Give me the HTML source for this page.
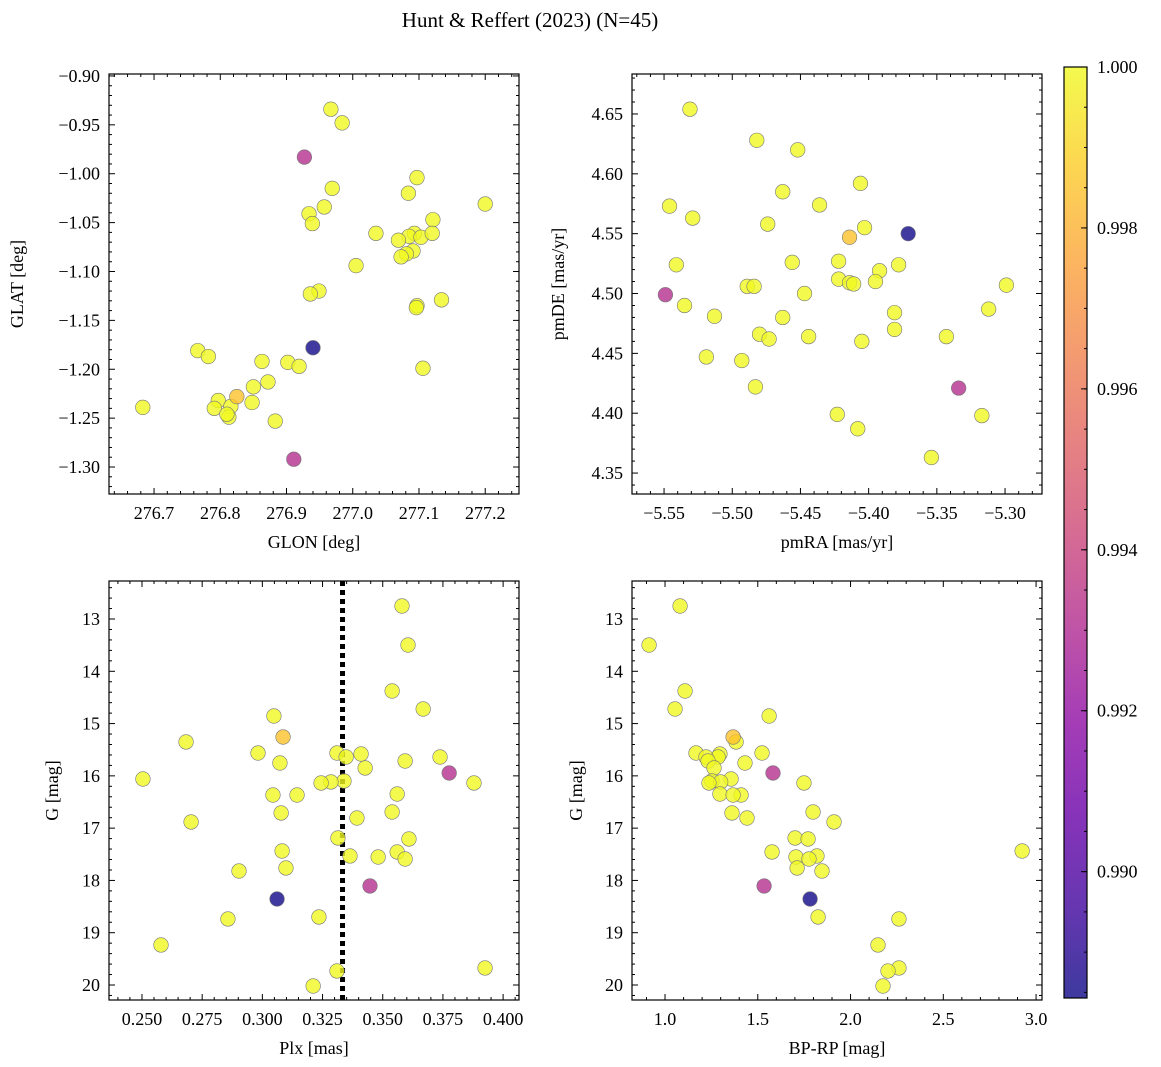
<!DOCTYPE html>
<html><head><meta charset="utf-8">
<style>
html,body{margin:0;padding:0;background:#fff;}
svg{display:block;font-family:"Liberation Serif","DejaVu Serif",serif;}
</style></head>
<body>
<svg id="chart" width="1161" height="1067" viewBox="0 0 1161 1067" xmlns="http://www.w3.org/2000/svg">
<text x="530" y="27" font-size="21" text-anchor="middle">Hunt &amp; Reffert (2023) (N=45)</text>
</svg>
<script>
// ---- data (first 4: blue, purple A, purple B, orange; rest yellow) ----
const glon = [276.940,276.927,276.911,276.825,
276.967,276.984,277.097,276.969,277.084,276.957,276.934,276.939,277.121,277.200,277.035,277.093,277.085,277.069,277.103,277.120,277.091,277.081,277.073,277.005,276.949,276.936,277.097,277.096,277.134,277.106,276.766,276.782,276.863,276.902,276.919,276.683,276.797,276.791,276.850,276.872,276.848,276.816,276.813,276.810,276.883];
const glat = [-1.178,-0.983,-1.292,-1.228,
-0.934,-0.948,-1.004,-1.015,-1.020,-1.034,-1.041,-1.051,-1.047,-1.031,-1.061,-1.061,-1.064,-1.068,-1.065,-1.061,-1.079,-1.082,-1.085,-1.094,-1.120,-1.123,-1.135,-1.137,-1.129,-1.199,-1.181,-1.187,-1.192,-1.193,-1.197,-1.239,-1.232,-1.240,-1.218,-1.213,-1.234,-1.238,-1.249,-1.246,-1.253];
const pmra = [-5.371,-5.334,-5.549,-5.414,
-5.531,-5.482,-5.452,-5.406,-5.463,-5.546,-5.436,-5.529,-5.474,-5.403,-5.422,-5.541,-5.456,-5.378,-5.392,-5.422,-5.414,-5.411,-5.395,-5.489,-5.484,-5.447,-5.535,-5.381,-5.513,-5.480,-5.463,-5.473,-5.444,-5.381,-5.343,-5.299,-5.312,-5.405,-5.519,-5.493,-5.483,-5.423,-5.317,-5.408,-5.354];
const pmde = [4.550,4.421,4.499,4.547,
4.654,4.628,4.620,4.592,4.585,4.573,4.574,4.563,4.558,4.555,4.527,4.524,4.526,4.524,4.519,4.512,4.509,4.508,4.510,4.506,4.506,4.500,4.490,4.484,4.481,4.466,4.480,4.462,4.464,4.470,4.464,4.507,4.487,4.460,4.447,4.444,4.422,4.399,4.398,4.387,4.363];
const plx = [0.3061,0.3776,0.3447,0.3086,
0.3580,0.3605,0.3539,0.3668,0.3048,0.2683,0.2982,0.3310,0.3410,0.3348,0.3738,0.3593,0.3073,0.3427,0.2504,0.3339,0.3285,0.3244,0.3879,0.3560,0.3044,0.3144,0.3539,0.3078,0.3393,0.2704,0.3314,0.3609,0.3082,0.3560,0.3364,0.3481,0.3593,0.3098,0.2903,0.3235,0.2857,0.2579,0.3925,0.3310,0.3211];
const gmag = [18.355,15.945,18.106,15.257,
12.751,13.497,14.377,14.721,14.855,15.352,15.563,15.563,15.582,15.639,15.639,15.716,15.754,15.849,16.060,16.098,16.117,16.136,16.136,16.347,16.366,16.366,16.691,16.710,16.806,16.882,17.188,17.207,17.437,17.456,17.532,17.552,17.590,17.762,17.820,18.699,18.737,19.234,19.674,19.732,20.019];
const bprp = [1.782,1.582,1.534,1.367,
1.081,0.914,1.108,1.054,1.561,1.383,1.523,1.167,1.296,1.286,1.221,1.232,1.431,1.264,1.356,1.253,1.300,1.237,1.749,1.296,1.410,1.367,1.798,1.361,1.442,1.911,1.701,1.771,2.925,1.577,1.819,1.706,1.776,1.712,1.846,1.825,2.261,2.148,2.261,2.202,2.175];
const prob = [0.9885,0.9932,0.9932,0.9985,
1,1,1,1,1,1,1,1,1,1,1,1,1,1,1,1,1,1,1,1,1,1,1,1,1,1,1,1,1,1,1,1,1,1,1,1,1,1,1,1,1];
const plxLine = 0.3333;
const cMin = 0.98843, cMax = 1.0;
const cbTicks = [0.990,0.992,0.994,0.996,0.998,1.000];

const NS='http://www.w3.org/2000/svg';
const svg=document.getElementById('chart');
const FS=18;
const plasma=['#0d0887','#41049d','#6a00a8','#8f0da4','#b12a90','#cc4778','#e16462','#f2844b','#fca636','#fcce25','#f0f921'];
function hex(h){return [1,3,5].map(i=>parseInt(h.substr(i,2),16));}
function cmap(t){t=Math.max(0,Math.min(1,t));const f=t*10,i=Math.min(9,Math.floor(f)),r=f-i;const a=hex(plasma[i]),b=hex(plasma[i+1]);return 'rgb('+a.map((v,k)=>Math.round(v+(b[k]-v)*r)).join(',')+')';}
function mk(tag,attrs,parent){const e=document.createElementNS(NS,tag);for(const k in attrs)e.setAttribute(k,attrs[k]);(parent||svg).appendChild(e);return e;}
function fmt(v,d){return v.toFixed(d).replace('-','\u2212');}

function panel(o){
  const g=mk('g',{});
  
  
  const {x0,x1,y0,y1}=o;
  const sx=v=>x0+(v-o.xmin)/(o.xmax-o.xmin)*(x1-x0);
  const sy=o.yinv? (v=>y0+(v-o.ymin)/(o.ymax-o.ymin)*(y1-y0)) : (v=>y1-(v-o.ymin)/(o.ymax-o.ymin)*(y1-y0));
  const tk=mk('g',{stroke:'#000','stroke-width':1},g);
  
  
  const eps=1e-9;
  for(let v=Math.ceil(o.xmin/o.xminor-eps)*o.xminor; v<=o.xmax+eps; v+=o.xminor){
    const px=sx(v); const maj=Math.abs(v/o.xmajor-Math.round(v/o.xmajor))<1e-6; const L=maj?6:3;
    mk('line',{x1:px,x2:px,y1:y1,y2:y1-L},tk); mk('line',{x1:px,x2:px,y1:y0,y2:y0+L},tk);
    if(maj){const t=mk('text',{x:px,y:y1+25,'font-size':FS,'text-anchor':'middle',stroke:'none',fill:'#000'},g);t.textContent=fmt(v,o.xd);
      }
  }
  for(let v=Math.ceil(o.ymin/o.yminor-eps)*o.yminor; v<=o.ymax+eps; v+=o.yminor){
    const py=sy(v); const maj=Math.abs(v/o.ymajor-Math.round(v/o.ymajor))<1e-6; const L=maj?6:3;
    mk('line',{x1:x0,x2:x0+L,y1:py,y2:py},tk); mk('line',{x1:x1,x2:x1-L,y1:py,y2:py},tk);
    if(maj){const t=mk('text',{x:x0-9,y:py+6,'font-size':FS,'text-anchor':'end',stroke:'none',fill:'#000'},g);t.textContent=fmt(v,o.yd);
      }
  }
  if(o.vline!==undefined){const l=mk('line',{x1:sx(o.vline),x2:sx(o.vline),y1:y0,y2:y1,stroke:'#000','stroke-width':5,'stroke-dasharray':'5,4'},g);
    }
  const order=[...o.xs.keys()].sort((a,b)=>prob[b]-prob[a]);
  order.forEach(i=>{
    const c=mk('circle',{cx:sx(o.xs[i]),cy:sy(o.ys[i]),r:7.3,fill:cmap((prob[i]-cMin)/(cMax-cMin)),'fill-opacity':0.8,stroke:'#777','stroke-width':0.6},g);
    
    
  });
  mk('rect',{x:x0,y:y0,width:x1-x0,height:y1-y0,fill:'none',stroke:'#000','stroke-width':1.2},g);
  const xl=mk('text',{x:(x0+x1)/2,y:y1+54,'font-size':FS,'text-anchor':'middle'},g);xl.textContent=o.xlabel;
  
  const yl=mk('text',{x:0,y:0,'font-size':FS,'text-anchor':'middle',transform:`translate(${o.ylx},${(y0+y1)/2}) rotate(-90)`},g);yl.textContent=o.ylabel;
  
}

panel({name:'glon-glat-panel',x0:109,x1:519,y0:74,y1:494,xmin:276.632,xmax:277.251,ymin:-1.3276,ymax:-0.898,
  xmajor:0.1,xminor:0.02,ymajor:0.05,yminor:0.01,xd:1,yd:2,xs:glon,ys:glat,xlabel:'GLON [deg]',ylabel:'GLAT [deg]',ylx:23});
panel({name:'proper-motion-panel',x0:632,x1:1042,y0:74,y1:494,xmin:-5.5735,xmax:-5.2729,ymin:4.3325,ymax:4.6834,
  xmajor:0.05,xminor:0.01,ymajor:0.05,yminor:0.01,xd:2,yd:2,xs:pmra,ys:pmde,xlabel:'pmRA [mas/yr]',ylabel:'pmDE [mas/yr]',ylx:564});
panel({name:'parallax-magnitude-panel',x0:109,x1:519,y0:581,y1:1000,xmin:0.2363,xmax:0.4066,ymin:12.273,ymax:20.287,yinv:true,
  xmajor:0.025,xminor:0.005,ymajor:1,yminor:0.2,xd:3,yd:0,xs:plx,ys:gmag,xlabel:'Plx [mas]',ylabel:'G [mag]',ylx:58,vline:plxLine});
panel({name:'color-magnitude-panel',x0:632,x1:1042,y0:581,y1:1000,xmin:0.822,xmax:3.032,ymin:12.273,ymax:20.287,yinv:true,
  xmajor:0.5,xminor:0.1,ymajor:1,yminor:0.2,xd:1,yd:0,xs:bprp,ys:gmag,xlabel:'BP-RP [mag]',ylabel:'G [mag]',ylx:582});

const cb=mk('g',{});


const defs=mk('defs',{},cb);
const lg=mk('linearGradient',{id:'cbg',x1:0,y1:1,x2:0,y2:0},defs);
plasma.forEach((c,i)=>mk('stop',{offset:(i*10)+'%','stop-color':c},lg));
const cbx0=1064,cbx1=1087,cby0=67,cby1=998;
mk('rect',{x:cbx0,y:cby0,width:cbx1-cbx0,height:cby1-cby0,fill:'url(#cbg)','fill-opacity':0.8},cb);
const cy=v=>cby1-(v-cMin)/(cMax-cMin)*(cby1-cby0);
for(let v=0.9885;v<=1.00001;v+=0.0005){const p=cy(v);if(p<cby0-0.5)continue;mk('line',{x1:cbx1,x2:cbx1-3,y1:p,y2:p,stroke:'#000'},cb);}
cbTicks.forEach(v=>{const p=cy(v);mk('line',{x1:cbx1,x2:cbx1-6,y1:p,y2:p,stroke:'#000'},cb);
  const t=mk('text',{x:1097,y:p+6,'font-size':FS},cb);t.textContent=v.toFixed(3);
  });
mk('rect',{x:cbx0,y:cby0,width:cbx1-cbx0,height:cby1-cby0,fill:'none',stroke:'#000','stroke-width':1.2},cb);
</script>
</body></html>
